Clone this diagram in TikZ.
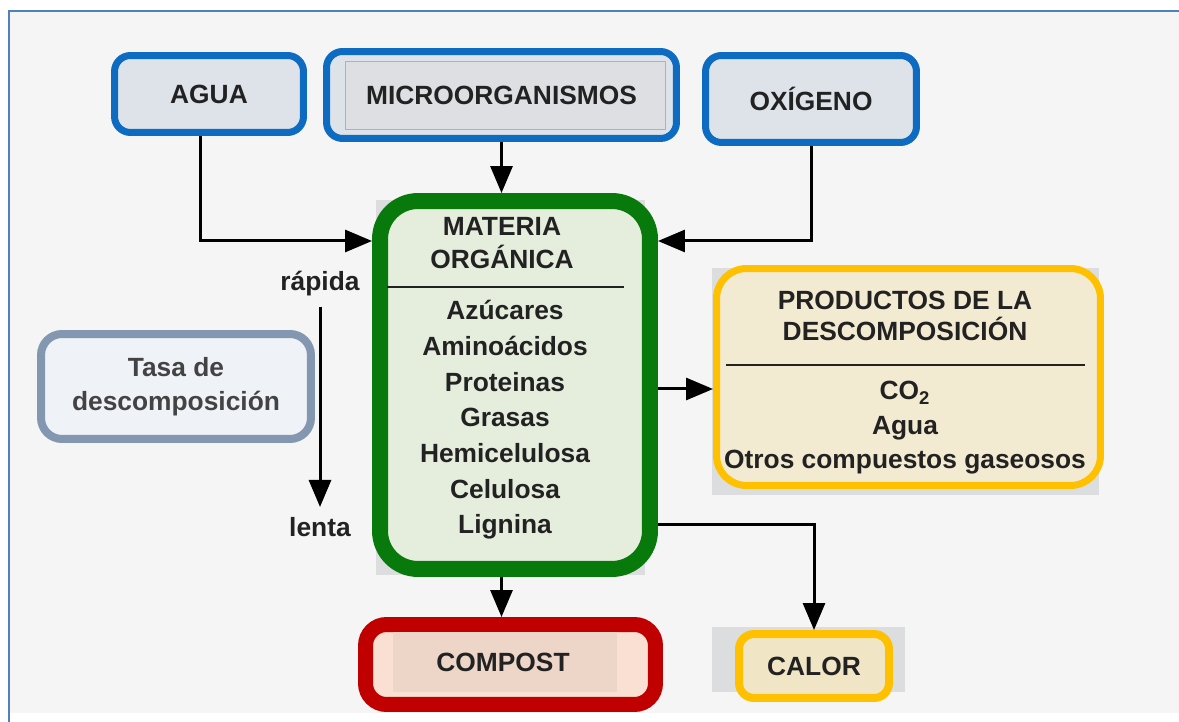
\documentclass[tikz,border=0pt]{standalone}
\usepackage{fontspec}
\setmainfont{Liberation Sans}
\usetikzlibrary{arrows.meta, positioning}
\definecolor{framebl}{HTML}{4F81BD}
\definecolor{bggray}{HTML}{F5F5F5}
\definecolor{backgray}{HTML}{DCDDDE}
\definecolor{boxblue}{HTML}{0D6CC2}
\definecolor{fillblue}{HTML}{DEE3EA}
\definecolor{boxgreen}{HTML}{077A0B}
\definecolor{fillgreen}{HTML}{E5EEDD}
\definecolor{boxorange}{HTML}{FFC000}
\definecolor{fillbeige}{HTML}{F3EAD2}
\definecolor{fillcalor}{HTML}{F0E6C5}
\definecolor{boxred}{HTML}{C00000}
\definecolor{fillred}{HTML}{FAE0D3}
\definecolor{innerred}{HTML}{EDD6C8}
\definecolor{boxslate}{HTML}{8497B0}
\definecolor{fillslate}{HTML}{EFF2F7}
\definecolor{txtgray}{HTML}{222222}

\begin{document}
\begin{tikzpicture}[x=0.02cm, y=-0.02cm,
  font=\fontsize{15}{20}\selectfont\bfseries,
  txt/.style={text=txtgray, align=center, inner sep=0pt},
  bluebox/.style={txt, draw=boxblue, fill=fillblue, line width=0.14cm, rounded corners=0.32cm},
  arr/.style={line width=0.06cm, -{Triangle[length=0.54cm, width=0.44cm]}}]
\useasboundingbox (0,0) rectangle (1179,722);
\fill [white] (0,0) rectangle (1179,722);
\fill [bggray] (10,12) rectangle (1179,713);
\draw [framebl, line width=0.05cm] (9,722) -- (9,11) -- (1179,11);
\fill [backgray] (376,200) rectangle (645,575);
\fill [backgray] (712,268) rectangle (1099,495);
\fill [backgray] (712,627) rectangle (905,692);
\node [bluebox, minimum width=3.78cm, minimum height=1.54cm] (agua) at (209,94) {AGUA};
\node [bluebox, minimum width=7.0cm, minimum height=1.74cm] (micro) at (501.5,95) {};
\fill [backgray!60!fillblue, draw=backgray!80!black, line width=0.02cm] (345,62) rectangle (665,130);
\node [txt] (microtxt) at (micro) {MICROORGANISMOS};
\node [bluebox, minimum width=4.22cm, minimum height=1.74cm] (oxigeno) at (811,99) {OXÍGENO};
\node [txt, draw=boxgreen, fill=fillgreen, line width=0.32cm, rounded corners=0.76cm,
  minimum width=5.4cm, minimum height=7.36cm] (materia) at (515,385) {};
\node [txt, font=\fontsize{15}{18.7}\selectfont\bfseries] (matitle) at (502,243) {MATERIA\\ORGÁNICA};
\draw [txtgray, line width=0.03cm] (387,287) -- (624,287);
\node [txt, font=\fontsize{15}{20.3}\selectfont\bfseries] (malist) at (505,420)
  {Azúcares\\Aminoácidos\\Proteinas\\Grasas\\Hemicelulosa\\Celulosa\\Lignina};
\node [txt, draw=boxorange, fill=fillbeige, line width=0.14cm, rounded corners=0.6cm,
  minimum width=7.68cm, minimum height=4.34cm] (productos) at (908.5,377) {};
\node [txt, font=\fontsize{15}{18.1}\selectfont\bfseries] (prtitle) at (905,316) {PRODUCTOS DE LA\\DESCOMPOSICIÓN};
\draw [txtgray, line width=0.03cm] (726,365) -- (1085,365);
\node [txt, font=\fontsize{15}{19.6}\selectfont\bfseries] (prlist) at (905,428)
  {CO\textsubscript{2}\\Agua\\Otros compuestos gaseosos};
\node [txt, text=txtgray!85, draw=boxslate, fill=fillslate, line width=0.16cm, rounded corners=0.42cm,
  minimum width=5.4cm, minimum height=2.1cm, font=\fontsize{15}{19.3}\selectfont\bfseries] (tasa) at (176,386.5)
  {Tasa de\\descomposición};
\node [txt, inner sep=0.2cm] (rapida) at (320,284) {rápida};
\node [txt, inner sep=0.2cm] (lenta) at (320,527) {lenta};
\node [txt, draw=boxred, fill=fillred, line width=0.3cm, rounded corners=0.42cm,
  minimum width=5.8cm, minimum height=1.6cm] (compost) at (510.5,664.5) {};
\fill [innerred] (393,632) rectangle (617,692);
\node [txt] (comptxt) at (503,662) {COMPOST};
\node [txt, draw=boxorange, fill=fillcalor, line width=0.16cm, rounded corners=0.3cm,
  minimum width=3.0cm, minimum height=1.28cm] (calor) at (814,666) {CALOR};
\coordinate (lvlin) at (0,241);
\coordinate (lvlout) at (0,389);
\coordinate (lvlheat) at (0,524);
\draw [arr] ([xshift=-0.18cm]agua.south) |- (materia.west |- lvlin);
\draw [arr] (micro.south) -- (micro.south |- materia.north);
\draw [arr] (oxigeno.south) |- (materia.east |- lvlin);
\draw [arr] (materia.east |- lvlout) -- (productos.west |- lvlout);
\draw [arr] (materia.east |- lvlheat) -| (calor.north);
\draw [arr] (micro.south |- materia.south) -- (micro.south |- compost.north);
\draw [arr] (rapida) -- (lenta);
\end{tikzpicture}
\end{document}
